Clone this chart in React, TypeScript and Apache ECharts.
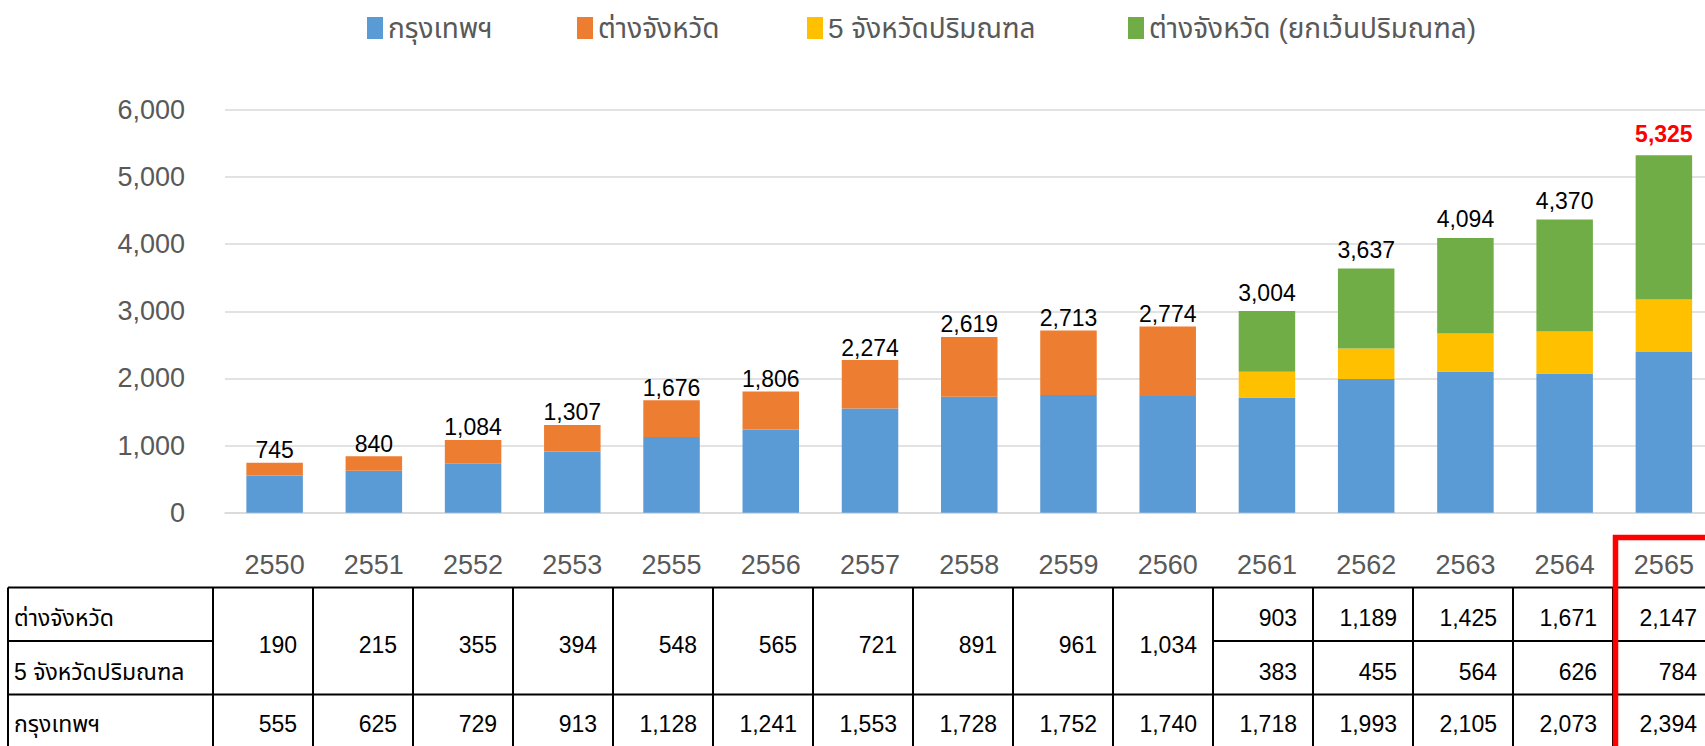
import React, { useEffect, useRef } from "react";
import * as echarts from "echarts";

// ---- data ----
const years = ["2550", "2551", "2552", "2553", "2555", "2556", "2557", "2558", "2559", "2560", "2561", "2562", "2563", "2564", "2565"];
const bangkok = [555, 625, 729, 913, 1128, 1241, 1553, 1728, 1752, 1740, 1718, 1993, 2105, 2073, 2394];
const provincesAll = [190, 215, 355, 394, 548, 565, 721, 891, 961, 1034, null, null, null, null, null];
const perimeter5 = [null, null, null, null, null, null, null, null, null, null, 383, 455, 564, 626, 784];
const provincesExcl = [null, null, null, null, null, null, null, null, null, null, 903, 1189, 1425, 1671, 2147];
const seriesNames = ["กรุงเทพฯ", "ต่างจังหวัด", "5 จังหวัดปริมณฑล", "ต่างจังหวัด (ยกเว้นปริมณฑล)"];
const tableRowLabels = ["ต่างจังหวัด", "5 จังหวัดปริมณฑล", "กรุงเทพฯ"];
const yMin = 0;
const yMax = 6000;
const yStep = 1000;

const COLORS = ["#5B9BD5", "#ED7D31", "#FFC000", "#70AD47"];
const FONT = "'Liberation Sans', Arial, 'Noto Sans Thai', 'Noto Sans', sans-serif";
const fmt = (v: number) => v.toLocaleString("en-US");

export default function App() {
  const ref = useRef<HTMLDivElement>(null);

  useEffect(() => {
    document.body.style.margin = "0";
    if (!ref.current) return;
    const chart = echarts.init(ref.current, undefined, { renderer: "svg" });

    const totals = years.map(
      (_, i) => (bangkok[i] || 0) + (provincesAll[i] || 0) + (perimeter5[i] || 0) + (provincesExcl[i] || 0)
    );
    const last = years.length - 1;

    // ---- table geometry ----
    const tLeft = 8;
    const tLabelRight = 213;
    const colW = 100;
    const yTop = 587.5;
    const yMid = 641;
    const yRow3 = 694.5;
    const yBottom = 770;
    const rowC1 = 618;
    const rowC2 = 671.5;
    const rowC3 = 724;
    const mergedC = 645;
    const splitFrom = provincesAll.findIndex((v) => v === null);
    const lineStyle = { stroke: "#000", lineWidth: 2 };

    const graphics: any[] = [];
    const hLine = (x1: number, x2: number, y: number) =>
      graphics.push({ type: "line", silent: true, shape: { x1, y1: y, x2, y2: y }, style: lineStyle, z: 10 });
    const vLine = (x: number) =>
      graphics.push({ type: "line", silent: true, shape: { x1: x, y1: yTop, x2: x, y2: yBottom }, style: lineStyle, z: 10 });
    const tEnd = tLabelRight + colW * years.length + 20;
    hLine(tLeft, tEnd, yTop);
    hLine(tLeft, tEnd, yRow3);
    hLine(tLeft, tLabelRight, yMid);
    hLine(tLabelRight + colW * splitFrom, tEnd, yMid);
    vLine(tLeft);
    for (let k = 0; k <= years.length; k++) vLine(tLabelRight + k * colW);

    const txt = (text: string, x: number, y: number, align: string, size: number) =>
      graphics.push({
        type: "text",
        silent: true,
        z: 11,
        style: {
          text,
          x,
          y,
          fill: "#000",
          fontSize: size,
          fontFamily: FONT,
          align,
          textAlign: align,
          verticalAlign: "middle",
          textVerticalAlign: "middle",
        },
      });
    txt(tableRowLabels[0], 14, rowC1, "left", 23);
    txt(tableRowLabels[1], 14, rowC2, "left", 23);
    txt(tableRowLabels[2], 14, rowC3, "left", 23);
    years.forEach((_, i) => {
      const xr = tLabelRight + (i + 1) * colW - 16;
      if (provincesAll[i] !== null) {
        txt(fmt(provincesAll[i] as number), xr, mergedC, "right", 23);
      } else {
        txt(fmt(provincesExcl[i] as number), xr, rowC1, "right", 23);
        txt(fmt(perimeter5[i] as number), xr, rowC2, "right", 23);
      }
      txt(fmt(bangkok[i]), xr, rowC3, "right", 23);
    });
    // red highlight box
    graphics.push({
      type: "rect",
      silent: true,
      z: 20,
      shape: { x: tLabelRight + last * colW + 2.5, y: 537.5, width: 300, height: 400 },
      style: { fill: "none", stroke: "#FF0000", lineWidth: 5.5 },
    });

    const legendLefts = [362, 572, 802, 1123];
    const legends = seriesNames.map((name, i) => ({
      data: [name],
      left: legendLefts[i],
      top: 9,
      itemWidth: 16,
      itemHeight: 22,
      icon: "rect",
      selectedMode: false,
      textStyle: { fontSize: 28, color: "#595959", fontFamily: FONT },
    }));

    const barW = 56.5;
    const mkBar = (i: number, data: (number | null)[]) => ({
      name: seriesNames[i],
      type: "bar",
      stack: "total",
      barWidth: barW,
      data,
      itemStyle: { color: COLORS[i] },
      silent: true,
    });

    chart.setOption({
      animation: false,
      legend: legends,
      grid: { left: 225, width: 1488.5, top: 110, bottom: 233.3, containLabel: false },
      xAxis: {
        type: "category",
        data: years,
        axisLine: { show: true, lineStyle: { color: "#d9d9d9", width: 1.5 } },
        axisTick: { show: false },
        axisLabel: { color: "#595959", fontSize: 27, fontFamily: FONT, margin: 39 },
      },
      yAxis: {
        type: "value",
        min: yMin,
        max: yMax,
        interval: yStep,
        axisLine: { show: false },
        axisTick: { show: false },
        splitLine: { lineStyle: { color: "#d9d9d9", width: 1.5 } },
        axisLabel: {
          color: "#595959",
          fontSize: 27,
          fontFamily: FONT,
          margin: 40,
          formatter: (v: number) => fmt(v),
        },
      },
      series: [
        mkBar(0, bangkok),
        mkBar(1, provincesAll),
        mkBar(2, perimeter5),
        mkBar(3, provincesExcl),
        {
          name: "total",
          type: "bar",
          barWidth: barW,
          barGap: "-100%",
          silent: true,
          itemStyle: { color: "rgba(0,0,0,0)" },
          data: totals.map((v, i) => ({
            value: v,
            label:
              i === last
                ? { show: true, position: "top", distance: 10, color: "#FF0000", fontWeight: "bold", fontSize: 23 }
                : { show: true, position: "top", distance: i >= splitFrom ? 7 : 1 },
          })),
          label: {
            show: true,
            position: "top",
            color: "#000",
            fontSize: 23,
            fontFamily: FONT,
            formatter: (p: any) => fmt(p.value),
          },
        },
      ],
      graphic: graphics,
    });

    return () => chart.dispose();
  }, []);

  return (
    <div style={{ position: "absolute", left: 0, top: 0, width: 1705, height: 746, overflow: "hidden" }}>
      <div ref={ref} style={{ width: 1720, height: 746 }} />
    </div>
  );
}
